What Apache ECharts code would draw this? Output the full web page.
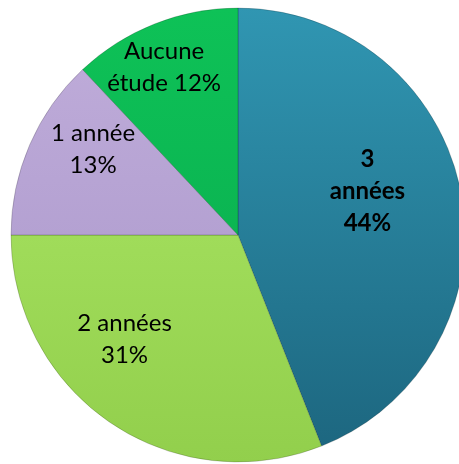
<!DOCTYPE html>
<html><head><meta charset="utf-8">
<script src="https://cdn.jsdelivr.net/npm/echarts@6/dist/echarts.min.js"></script>
<style>html,body{margin:0;padding:0;background:#fff}#c{width:459px;height:464px}</style>
</head><body><div id="c"></div>
<script>
const categories = ['3 années', '2 années', '1 année', 'Aucune étude'];
const values = [44, 31, 13, 12];
const labelTexts = ['3\nannées\n44%', '2 années\n31%', '1 année\n13%', 'Aucune\nétude 12%'];
const topColors = ['#3096b2', '#a0dc5a', '#bdaad8', '#0ec257'];
const bottomColors = ['#1d6780', '#92cf4c', '#b4a1d2', '#0bb552'];
const boldFlags = [true, false, false, false];
const labelShift = [[15, -22], [-48, 8], [-38, -39], [-31, -59]];

const chart = echarts.init(document.getElementById('c'), null, {renderer: 'canvas'});
chart.setOption({
  animation: false,
  series: [{
    type: 'pie',
    center: [238, 235],
    radius: [0, 227],
    startAngle: 90,
    clockwise: true,
    avoidLabelOverlap: false,
    label: {
      show: true,
      position: 'inside',
      color: '#000',
      fontFamily: 'Lato, "Open Sans", sans-serif',
      fontSize: 24,
      lineHeight: 32,
      align: 'center'
    },
    labelLine: {show: false},
    labelLayout: function (p) {
      const s = labelShift[p.dataIndex];
      return {dx: s[0], dy: s[1]};
    },
    itemStyle: {borderColor: 'rgba(0,0,0,0.18)', borderWidth: 1},
    emphasis: {disabled: true},
    data: categories.map((c, i) => ({
      name: c,
      value: values[i],
      label: {formatter: labelTexts[i], fontWeight: boldFlags[i] ? 'bold' : 'normal'},
      itemStyle: {
        color: new echarts.graphic.LinearGradient(0, 0, 0, 1, [
          {offset: 0, color: topColors[i]},
          {offset: 1, color: bottomColors[i]}
        ])
      }
    }))
  }]
});
</script></body></html>
